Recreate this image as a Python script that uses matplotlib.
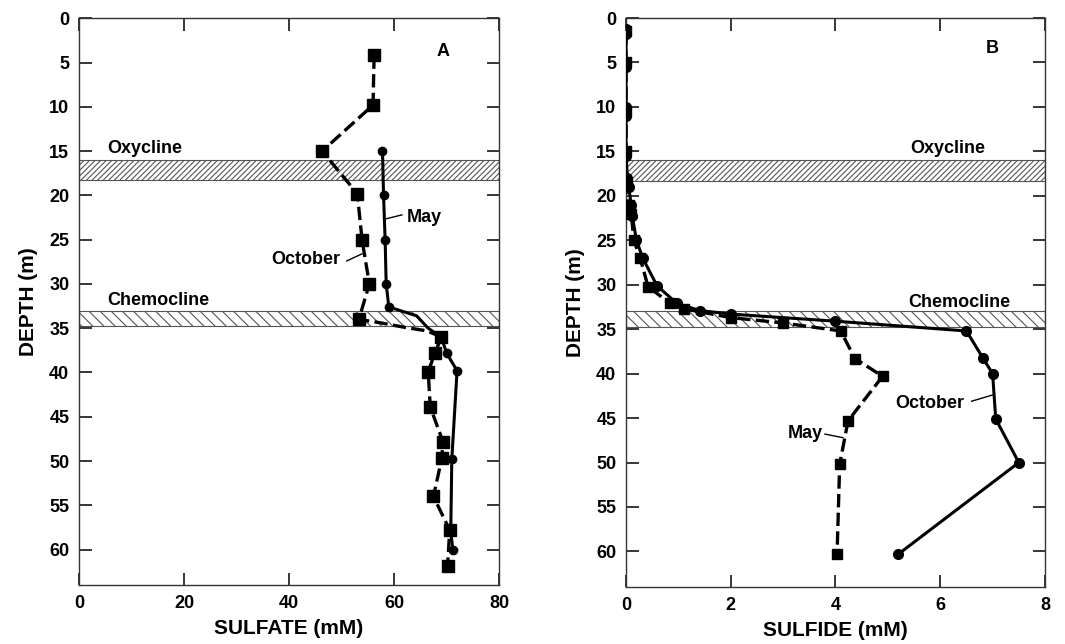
import matplotlib.pyplot as plt
import matplotlib as mpl

mpl.rcParams['font.family'] = 'Liberation Sans'
mpl.rcParams['font.weight'] = 'bold'
mpl.rcParams['hatch.linewidth'] = 0.8

# panel A: sulfate
oct_so4_depth = [4.2, 9.8, 15, 19.8, 25, 30, 34.0, 34.4, 34.9, 35.3, 36.0, 37.8, 39.9, 43.9, 47.8, 49.7, 54.0, 57.8, 61.8]
oct_so4 = [56.2, 56.0, 46.3, 53.0, 53.9, 55.3, 53.3, 57.5, 62.0, 66.3, 69.0, 67.8, 66.5, 66.9, 69.3, 69.1, 67.5, 70.6, 70.2]
may_so4_depth = [15, 20, 25, 30, 32.6, 33.6, 35.0, 36.0, 37.8, 39.8, 49.8, 58.0, 60.0]
may_so4 = [57.8, 58.0, 58.3, 58.5, 59.0, 64.3, 66.5, 69.0, 70.0, 72.0, 71.0, 70.8, 71.2]

# panel B: sulfide
oct_hs_depth = [1.2, 1.8, 5.0, 5.5, 10.0, 11.0, 15.0, 15.5, 18.0, 19.0, 21.0, 22.3, 25.0, 27.0, 30.1, 32.1, 32.9, 33.3, 34.1, 35.2, 38.2, 40.0, 45.1, 50.0, 60.3]
oct_hs = [0.0, 0.0, 0.0, 0.0, 0.0, 0.0, 0.0, 0.0, 0.02, 0.05, 0.1, 0.12, 0.2, 0.32, 0.59, 0.97, 1.41, 2.0, 4.0, 6.5, 6.81, 7.0, 7.06, 7.5, 5.2]
may_hs_depth = [1.5, 5.0, 10.5, 15.0, 18.5, 21.0, 22.0, 25.0, 27.0, 30.2, 32.1, 32.7, 33.7, 34.3, 35.2, 38.3, 40.3, 45.3, 50.2, 60.3]
may_hs = [0.0, 0.0, 0.0, 0.0, 0.02, 0.05, 0.1, 0.15, 0.27, 0.42, 0.84, 1.1, 2.0, 3.0, 4.1, 4.37, 4.9, 4.24, 4.08, 4.03]

oxycline = (16.0, 18.3)
chemocline = (33.0, 34.8)

fig = plt.figure(figsize=(10.65, 6.44), dpi=100)
axA = fig.add_axes([0.0742, 0.0916, 0.3944, 0.880])
axB = fig.add_axes([0.5878, 0.0885, 0.3934, 0.8835])

dash = (4, 1.6)


def setup(ax, xmax, xticks, xlabel):
    ax.axhspan(*oxycline, facecolor='white', edgecolor='#555555', hatch='//////', lw=0.8, zorder=1)
    ax.axhspan(*chemocline, facecolor='white', edgecolor='#555555', hatch='\\\\\\', lw=0.8, zorder=1)
    ax.set_xlim(0, xmax)
    ax.set_ylim(64, 0)
    ax.set_xticks(xticks)
    ax.set_yticks(range(0, 61, 5))
    ax.tick_params(direction='in', length=9, width=1.1, labelsize=13, top=True, right=True, pad=7)
    for lab in ax.get_xticklabels() + ax.get_yticklabels():
        lab.set_fontweight('bold')
    for s in ax.spines.values():
        s.set_linewidth(1.0)
        s.set_color('#333333')
    ax.set_ylabel('DEPTH (m)', fontsize=15, fontweight='bold', labelpad=8)
    ax.set_xlabel(xlabel, fontsize=15, fontweight='bold', labelpad=5)


setup(axA, 80, [0, 20, 40, 60, 80], 'SULFATE (mM)')
oct_marks = [i for i in range(len(oct_so4)) if i not in (7, 8, 9)]
may_marks = [i for i in range(len(may_so4)) if i not in (5, 6)]
axA.plot(oct_so4, oct_so4_depth, color='black', lw=2.4, ls=(0, dash), marker='s', ms=8,
         markevery=oct_marks, zorder=3)
axA.plot(may_so4, may_so4_depth, color='black', lw=2.2, marker='o', ms=6,
         markevery=may_marks, zorder=3)
axA.text(69.3, 3.7, 'A', fontsize=13, fontweight='bold', ha='center', va='center')
axA.text(5.3, 14.7, 'Oxycline', fontsize=13, fontweight='bold', va='center')
axA.text(5.3, 31.9, 'Chemocline', fontsize=13, fontweight='bold', va='center')
axA.text(62.4, 22.5, 'May', fontsize=13, fontweight='bold', va='center')
axA.plot([58.1, 61.5], [22.7, 22.2], color='black', lw=1)
axA.text(49.7, 27.2, 'October', fontsize=13, fontweight='bold', va='center', ha='right')
axA.plot([51.0, 53.9], [27.4, 26.6], color='black', lw=1)

setup(axB, 8, [0, 2, 4, 6, 8], 'SULFIDE (mM)')
axB.plot(may_hs, may_hs_depth, color='black', lw=2.4, ls=(0, dash), marker='s', ms=7, zorder=3)
axB.plot(oct_hs, oct_hs_depth, color='black', lw=2.2, marker='o', ms=7, zorder=3)
axB.text(7.0, 3.4, 'B', fontsize=13, fontweight='bold', ha='center', va='center')
axB.text(6.15, 14.7, 'Oxycline', fontsize=13, fontweight='bold', ha='center', va='center')
axB.text(6.37, 32.0, 'Chemocline', fontsize=13, fontweight='bold', ha='center', va='center')
axB.text(5.8, 43.4, 'October', fontsize=13, fontweight='bold', ha='center', va='center')
axB.plot([6.6, 7.0], [43.1, 42.4], color='black', lw=1)
axB.text(3.42, 46.7, 'May', fontsize=13, fontweight='bold', ha='center', va='center')
axB.plot([3.8, 4.14], [46.8, 47.2], color='black', lw=1)

fig.savefig('out.png', dpi=100)
